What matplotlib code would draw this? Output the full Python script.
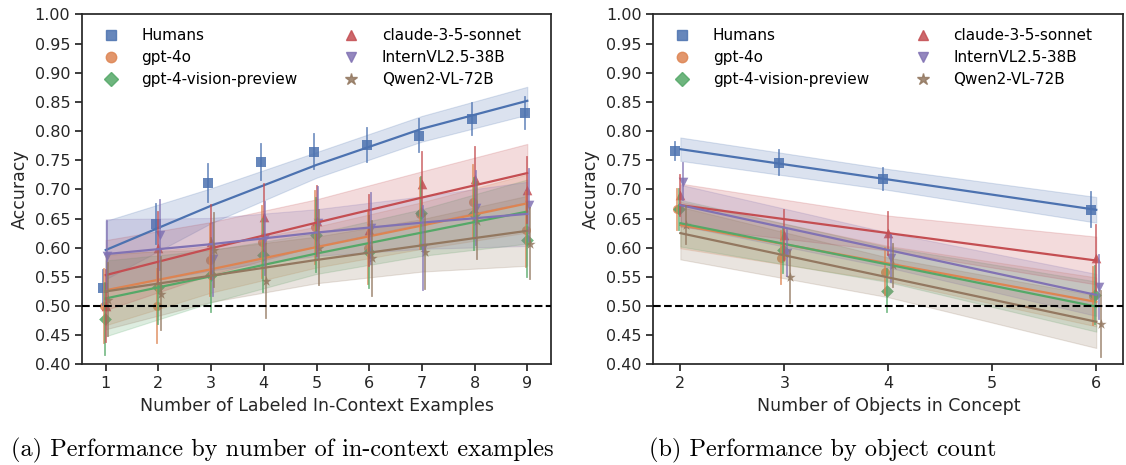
import numpy as np
import matplotlib
matplotlib.use("Agg")
import matplotlib.pyplot as plt
from matplotlib.lines import Line2D

# Series names, colours and markers (seaborn "deep")
models = ["Humans", "gpt-4o", "gpt-4-vision-preview",
          "claude-3-5-sonnet", "InternVL2.5-38B", "Qwen2-VL-72B"]
colors = ["#4C72B0", "#DD8452", "#55A868", "#C44E52", "#8172B3", "#937860"]
markers = ["s", "o", "D", "^", "v", "*"]

# ---- (a) number of labeled in-context examples ----
shots = [1, 2, 3, 4, 5, 6, 7, 8, 9]
shots_humans = [0.531, 0.641, 0.711, 0.747, 0.765, 0.776, 0.792, 0.821, 0.831]
shots_gpt4o = [0.500, 0.500, 0.579, 0.610, 0.635, 0.600, 0.658, 0.679, 0.631]
shots_gpt4v = [0.478, 0.533, 0.553, 0.587, 0.622, 0.593, 0.660, 0.658, 0.613]
shots_claude = [0.500, 0.599, 0.610, 0.652, 0.645, 0.630, 0.710, 0.717, 0.699]
shots_internvl = [0.585, 0.622, 0.580, 0.616, 0.642, 0.633, 0.600, 0.668, 0.673]
shots_qwen = [0.511, 0.521, 0.596, 0.543, 0.600, 0.582, 0.593, 0.646, 0.607]

shots_err_humans = [0.030, 0.034, 0.032, 0.031, 0.030, 0.029, 0.028, 0.027, 0.027]
shots_err_gpt4o = [0.064, 0.063, 0.062, 0.062, 0.063, 0.062, 0.061, 0.062, 0.064]
shots_err_gpt4v = [0.062, 0.064, 0.064, 0.063, 0.063, 0.062, 0.062, 0.062, 0.064]
shots_err_claude = [0.062, 0.062, 0.063, 0.058, 0.060, 0.061, 0.055, 0.056, 0.057]
shots_err_internvl = [0.060, 0.060, 0.063, 0.062, 0.062, 0.061, 0.072, 0.064, 0.062]
shots_err_qwen = [0.063, 0.063, 0.063, 0.064, 0.064, 0.064, 0.064, 0.066, 0.061]

shots_fit_x = [1, 3, 5, 7, 9]
shots_fit_humans = [0.596, 0.672, 0.742, 0.804, 0.852]
shots_fit_gpt4o = [0.527, 0.563, 0.601, 0.638, 0.676]
shots_fit_gpt4v = [0.513, 0.551, 0.590, 0.626, 0.662]
shots_fit_claude = [0.553, 0.599, 0.643, 0.686, 0.728]
shots_fit_internvl = [0.589, 0.606, 0.626, 0.643, 0.658]
shots_fit_qwen = [0.525, 0.552, 0.579, 0.604, 0.629]

shots_band_humans = [0.050, 0.030, 0.022, 0.022, 0.024]
shots_band_gpt4o = [0.060, 0.040, 0.035, 0.040, 0.050]
shots_band_gpt4v = [0.065, 0.045, 0.035, 0.040, 0.055]
shots_band_claude = [0.060, 0.045, 0.040, 0.045, 0.050]
shots_band_internvl = [0.060, 0.045, 0.040, 0.045, 0.055]
shots_band_qwen = [0.065, 0.045, 0.040, 0.045, 0.060]

# ---- (b) number of objects in concept ----
objs = [2, 3, 4, 6]
objs_humans = [0.766, 0.746, 0.718, 0.665]
objs_gpt4o = [0.666, 0.583, 0.559, 0.517]
objs_gpt4v = [0.666, 0.596, 0.526, 0.519]
objs_claude = [0.690, 0.622, 0.625, 0.582]
objs_internvl = [0.713, 0.591, 0.582, 0.533]
objs_qwen = [0.639, 0.550, 0.570, 0.469]

objs_err_humans = [0.016, 0.022, 0.019, 0.030]
objs_err_gpt4o = [0.035, 0.045, 0.040, 0.050]
objs_err_gpt4v = [0.035, 0.040, 0.037, 0.050]
objs_err_claude = [0.035, 0.043, 0.037, 0.057]
objs_err_internvl = [0.032, 0.040, 0.040, 0.055]
objs_err_qwen = [0.033, 0.045, 0.037, 0.056]

objs_fit_x = [2, 4, 6]
objs_fit_humans = [0.769, 0.717, 0.665]
objs_fit_gpt4o = [0.639, 0.573, 0.507]
objs_fit_gpt4v = [0.642, 0.571, 0.499]
objs_fit_claude = [0.673, 0.625, 0.578]
objs_fit_internvl = [0.673, 0.596, 0.519]
objs_fit_qwen = [0.625, 0.549, 0.473]

objs_band_humans = [0.020, 0.018, 0.022]
objs_band_gpt4o = [0.040, 0.030, 0.042]
objs_band_gpt4v = [0.040, 0.030, 0.043]
objs_band_claude = [0.037, 0.030, 0.041]
objs_band_internvl = [0.035, 0.030, 0.036]
objs_band_qwen = [0.045, 0.034, 0.045]

y_ticks = [0.40, 0.45, 0.50, 0.55, 0.60, 0.65, 0.70, 0.75, 0.80, 0.85, 0.90, 0.95, 1.00]

# small horizontal dodge so the estimates don't sit on top of each other
dodge = [-0.05, -0.03, -0.01, 0.0, 0.03, 0.05]
sizes = [42, 42, 42, 48, 48, 60]

plt.rcParams["font.family"] = "DejaVu Sans"
plt.rcParams["axes.edgecolor"] = "#262626"
plt.rcParams["axes.linewidth"] = 1.25
plt.rcParams["xtick.color"] = "#262626"
plt.rcParams["ytick.color"] = "#262626"
plt.rcParams["xtick.major.size"] = 5
plt.rcParams["ytick.major.size"] = 5
plt.rcParams["xtick.major.width"] = 1.25
plt.rcParams["ytick.major.width"] = 1.25


def draw_panel(ax, xs, means, errs, fit_x, fits, bands):
    for i in range(len(models)):
        c = colors[i]
        px = np.array(xs) + dodge[i]
        m = np.array(means[i])
        e = np.array(errs[i])
        for x, lo, hi in zip(px, m - e, m + e):
            ax.plot([x, x], [lo, hi], color=c, lw=1.3, alpha=0.75)
        ax.scatter(px, m, marker=markers[i], s=sizes[i], color=c, alpha=0.85, lw=0)
        f = np.array(fits[i])
        b = np.array(bands[i])
        ax.fill_between(fit_x, f - b, f + b, facecolor=c, edgecolor=c, alpha=0.2, lw=0.8)
        ax.plot(fit_x, f, color=c, lw=1.6)
    ax.axhline(0.5, color="black", ls="--", lw=1.5, zorder=5)
    ax.set_ylim(0.4, 1.0)
    ax.set_yticks(y_ticks)
    ax.set_yticklabels([f"{t:.2f}" for t in y_ticks])
    ax.set_xticks(xs if len(xs) > 4 else [2, 3, 4, 5, 6])
    ax.tick_params(labelsize=11.5)
    ax.set_ylabel("Accuracy", fontsize=12.5, color="#262626")

    handles = [Line2D([], [], ls="none", marker=markers[i], color=colors[i],
                      markersize=9 if markers[i] == "*" else 7.5, alpha=0.85)
               for i in range(len(models))]
    ax.legend(handles, models, ncol=2, loc="upper left", frameon=False,
              fontsize=11, handletextpad=1.0, columnspacing=2.5,
              labelspacing=0.45, borderaxespad=0.5)


fig = plt.figure(figsize=(11.26, 4.65), dpi=100)
W, H = 1126, 465
ax1 = fig.add_axes([82 / W, 1 - 364.3 / H, (551 - 82) / W, (364.3 - 14.5) / H])
ax2 = fig.add_axes([653.3 / W, 1 - 364.3 / H, (1123.3 - 653.3) / W, (364.3 - 14.5) / H])

draw_panel(ax1, shots,
           [shots_humans, shots_gpt4o, shots_gpt4v, shots_claude, shots_internvl, shots_qwen],
           [shots_err_humans, shots_err_gpt4o, shots_err_gpt4v, shots_err_claude,
            shots_err_internvl, shots_err_qwen],
           shots_fit_x,
           [shots_fit_humans, shots_fit_gpt4o, shots_fit_gpt4v, shots_fit_claude,
            shots_fit_internvl, shots_fit_qwen],
           [shots_band_humans, shots_band_gpt4o, shots_band_gpt4v, shots_band_claude,
            shots_band_internvl, shots_band_qwen])
ax1.set_xlim(0.55, 9.45)
ax1.set_xlabel("Number of Labeled In-Context Examples", fontsize=12.5, color="#262626")

draw_panel(ax2, objs,
           [objs_humans, objs_gpt4o, objs_gpt4v, objs_claude, objs_internvl, objs_qwen],
           [objs_err_humans, objs_err_gpt4o, objs_err_gpt4v, objs_err_claude,
            objs_err_internvl, objs_err_qwen],
           objs_fit_x,
           [objs_fit_humans, objs_fit_gpt4o, objs_fit_gpt4v, objs_fit_claude,
            objs_fit_internvl, objs_fit_qwen],
           [objs_band_humans, objs_band_gpt4o, objs_band_gpt4v, objs_band_claude,
            objs_band_internvl, objs_band_qwen])
ax2.set_xlim(1.74, 6.26)
ax2.set_xlabel("Number of Objects in Concept", fontsize=12.5, color="#262626")

fig.text(282 / W, 1 - 456 / H, "(a) Performance by number of in-context examples",
         family="cmr10", fontsize=17.5, ha="center", va="baseline")
fig.text(823 / W, 1 - 456 / H, "(b) Performance by object count",
         family="cmr10", fontsize=17.5, ha="center", va="baseline")

fig.savefig("out.png", dpi=100)
